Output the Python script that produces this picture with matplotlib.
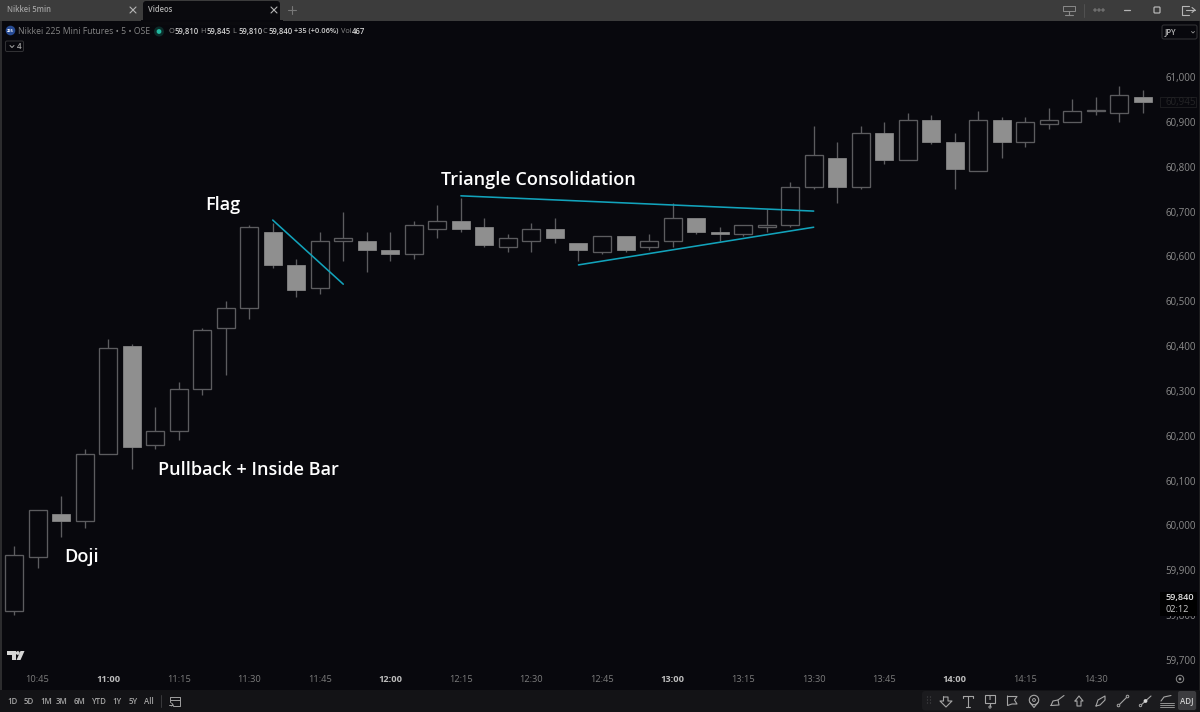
import matplotlib
matplotlib.use("Agg")
import matplotlib.pyplot as plt
from matplotlib.patches import FancyBboxPatch, Rectangle, Circle, Polygon

# Five-minute session data, oldest bar first
opens = [59810, 59930, 60025, 60010, 60160, 60400, 60180, 60210, 60305, 60440,
         60485, 60655, 60580, 60530, 60635, 60635, 60615, 60605, 60660, 60680,
         60665, 60620, 60635, 60660, 60630, 60610, 60645, 60620, 60635, 60685,
         60655, 60650, 60665, 60670, 60755, 60820, 60755, 60875, 60815, 60905,
         60855, 60790, 60905, 60855, 60895, 60900, 60925, 60920, 60955]
highs = [59955, 60035, 60065, 60170, 60415, 60405, 60265, 60320, 60440, 60500,
         60670, 60675, 60595, 60655, 60700, 60655, 60655, 60680, 60715, 60730,
         60685, 60650, 60675, 60685, 60630, 60645, 60645, 60650, 60720, 60685,
         60665, 60670, 60705, 60765, 60890, 60855, 60890, 60900, 60920, 60915,
         60875, 60925, 60910, 60910, 60930, 60950, 60955, 60980, 60970]
lows = [59800, 59905, 59975, 59995, 60160, 60125, 60170, 60190, 60290, 60335,
        60460, 60575, 60510, 60515, 60590, 60565, 60590, 60595, 60640, 60655,
        60620, 60610, 60610, 60630, 60590, 60605, 60610, 60615, 60620, 60650,
        60635, 60645, 60655, 60665, 60750, 60720, 60750, 60805, 60815, 60850,
        60750, 60790, 60820, 60845, 60885, 60900, 60915, 60900, 60920]
closes = [59935, 60035, 60010, 60160, 60395, 60175, 60210, 60305, 60435, 60485,
          60665, 60580, 60525, 60635, 60640, 60615, 60605, 60670, 60680, 60660,
          60625, 60640, 60660, 60640, 60615, 60645, 60615, 60635, 60685, 60655,
          60650, 60670, 60670, 60755, 60825, 60755, 60875, 60815, 60905, 60855,
          60795, 60905, 60855, 60900, 60905, 60925, 60925, 60960, 60945]

price_ticks = list(range(59700, 61001, 100))
time_tick_bars = list(range(1, 49, 3))
time_tick_labels = ["10:45", "11:00", "11:15", "11:30", "11:45", "12:00", "12:15", "12:30",
                    "12:45", "13:00", "13:15", "13:30", "13:45", "14:00", "14:15", "14:30"]

flag_line = ([11, 14], [60681, 60538])
triangle_top = ([19, 34], [60735, 60701])
triangle_bottom = ([24, 34], [60581, 60665])

notes = [("Doji", 2.13, 59930), ("Pullback + Inside Bar", 6.12, 60123), ("Flag", 8.13, 60715),
         ("Triangle Consolidation", 18.15, 60770)]

BG = "#08080d"
EDGE = "#5c5c5f"
FILL = "#8f8f8f"
TEAL = "#12a3bb"
W, H = 1200, 712

plt.rcParams["font.family"] = ["Open Sans", "DejaVu Sans"]
fig = plt.figure(figsize=(W / 100, H / 100), dpi=100, facecolor=BG)

# Price pane: 2.23 price units per pixel, bar spacing 23.52 px
ax = fig.add_axes([0, (H - 686) / H, 1160 / W, (686 - 40) / H], facecolor=BG)
ax.set_xlim(-14 / 23.52, (1160 - 14) / 23.52)
ax.set_ylim(59642, 61082.5)
for s in ax.spines.values():
    s.set_visible(False)
ax.yaxis.tick_right()
ax.set_yticks(price_ticks, [f"{p:,}" for p in price_ticks])
ax.tick_params(axis="y", length=0, pad=4.1, labelsize=7, labelcolor="#8c8c8c")
ax.set_xticks(time_tick_bars, time_tick_labels)
ax.tick_params(axis="x", length=0, pad=-8, labelsize=6.7, labelcolor="#7c7c7c", direction="in")
for lab in ax.get_xticklabels():
    if lab.get_text().endswith(":00"):
        lab.set_color("#bdbdbd")
        lab.set_fontweight("bold")

body_w = 18 / 23.52
for i, (o, h, l, c) in enumerate(zip(opens, highs, lows, closes)):
    top, bot = max(o, c), min(o, c)
    ax.vlines(i, bot, l, color=EDGE, lw=0.95, zorder=2)
    ax.vlines(i, top, h, color=EDGE, lw=0.95, zorder=2)
    if c >= o:
        ax.add_patch(Rectangle((i - body_w / 2, bot), body_w, max(top - bot, 1), fc=BG, ec=EDGE, lw=0.95, zorder=3))
    else:
        ax.add_patch(Rectangle((i - body_w / 2, bot), body_w, top - bot, fc=FILL, ec=FILL, lw=0.5, zorder=3))

for xs, ys in (flag_line, triangle_top, triangle_bottom):
    ax.plot(xs, ys, color=TEAL, lw=1.15, zorder=4, solid_capstyle="round")

for text, x, y in notes:
    ax.text(x, y, text, color="white", fontsize=12.95, fontweight="semibold",
            va="center", ha="left", zorder=5)

# Application chrome, laid out in pixel coordinates
ui = fig.add_axes([0, 0, 1, 1], facecolor="none", zorder=5)
ui.set_xlim(0, W)
ui.set_ylim(H, 0)
ui.axis("off")

ui.add_patch(Rectangle((0, 0), W, 20.5, fc="#3c3c3c", ec="none"))
ui.add_patch(FancyBboxPatch((143, 1), 137, 24, boxstyle="round,pad=0,rounding_size=3", fc="#0a0a0e", ec="none"))
ui.add_patch(Rectangle((141, 20), 142, 2, fc=BG, ec="none"))
ui.add_patch(Rectangle((0, 20.5), 1.5, 670, fc="#2c2c2e", ec="none"))
ui.add_patch(Rectangle((0, 689.5), W, 22.5, fc="#131316", ec="none"))
ui.add_patch(Rectangle((1198.5, 20.5), 1.5, 670, fc="#1c1c1e", ec="none"))

def label(x, y, s, size=6.3, color="#9a9a9a", ha="left", weight="normal"):
    ui.text(x, y, s, fontsize=size, color=color, ha=ha, va="center", fontweight=weight)

def stroke(points, color="#a0a0a0", lw=0.8):
    ui.plot([p[0] for p in points], [p[1] for p in points], color=color, lw=lw, solid_capstyle="round")

label(7, 10, "Nikkei 5min", 5.5, "#a2a2a2", weight="semibold")
label(148, 10, "Videos", 5.5, "#b0b0b0", weight="semibold")
for cx in (133, 274):
    stroke([(cx - 3, 7), (cx + 3, 13)], "#b5b5b5", 0.8)
    stroke([(cx - 3, 13), (cx + 3, 7)], "#b5b5b5", 0.8)
stroke([(288, 10), (296, 10)], "#777777", 0.8)
stroke([(292, 6), (292, 14)], "#777777", 0.8)

# Window controls
ui.add_patch(Rectangle((1063, 6), 12, 5, fc="none", ec="#8a8a8a", lw=0.7))
stroke([(1069, 11), (1069, 15)], "#8a8a8a")
stroke([(1065, 15), (1073, 15)], "#8a8a8a")
stroke([(1083.5, 4), (1083.5, 17)], "#555555", 0.6)
for cx in (1095, 1099, 1103):
    ui.add_patch(Circle((cx, 10), 1.1, fc="none", ec="#8a8a8a", lw=0.6))
stroke([(1124, 10), (1130, 10)], "#b5b5b5", 0.9)
ui.add_patch(FancyBboxPatch((1154, 7), 6, 6, boxstyle="round,pad=0,rounding_size=1", fc="none", ec="#b5b5b5", lw=0.9))
stroke([(1189, 5.5), (1182, 5.5), (1182, 14.5), (1189, 14.5)], "#b5b5b5", 0.8)
stroke([(1186, 10), (1195, 10)], "#b5b5b5", 0.8)
stroke([(1192, 7.5), (1195, 10), (1192, 12.5)], "#b5b5b5", 0.8)

# Symbol legend row
ui.add_patch(Circle((10.5, 30.5), 4.8, fc="#274b94", ec="none"))
ui.text(10.5, 30.7, "225", fontsize=2.9, color="white", ha="center", va="center", fontweight="bold")
label(18, 31, "Nikkei 225 Mini Futures \u2022 5 \u2022 OSE", 6.2, "#858585")
ui.add_patch(Circle((159, 31.5), 5, fc="#0c2c2a", ec="none"))
ui.add_patch(Circle((159, 31.5), 2.4, fc="#22b8a0", ec="none"))
ohlc = [(168.5, "O", "59,810"), (200.5, "H", "59,845"), (232.5, "L", "59,810"), (262.5, "C", "59,840")]
for x, k, v in ohlc:
    label(x, 31.5, k, 5.3, "#8a8a8a")
    label(x + 6, 31.5, v, 5.5, "#d0d0d0", weight="semibold")
label(294, 31.5, "+35 (+0.06%)", 5.3, "#d0d0d0", weight="semibold")
label(341, 31.5, "Vol", 5.3, "#8a8a8a")
label(351.5, 31.5, "467", 5.6, "#d0d0d0", weight="semibold")
ui.add_patch(FancyBboxPatch((5.5, 41), 18, 10.5, boxstyle="round,pad=0,rounding_size=1.5", fc="none", ec="#333336", lw=0.7))
stroke([(10, 45.5), (12, 47.5), (14, 45.5)], "#a5a5a5", 0.7)
label(17, 46.3, "4", 5.8, "#a5a5a5", weight="semibold")

ui.add_patch(FancyBboxPatch((1162, 25), 35, 14, boxstyle="round,pad=0,rounding_size=2", fc="none", ec="#303033", lw=0.8))
label(1164.5, 32, "JPY", 5.5, "#bdbdbd", weight="semibold")
stroke([(1191.5, 31.5), (1193, 33), (1194.5, 31.5)], "#9a9a9a", 0.6)

# Price scale flags
ui.add_patch(Rectangle((1160, 96.5), 36, 10.5, fc="#08080d", ec="#1c1c1f", lw=0.7))
label(1166, 102, "60,945", 7, "#242426")
ui.add_patch(Rectangle((1160, 592), 37, 24, fc="#000000", ec="none"))
label(1165.7, 597.8, "59,840", 6.6, "#e0e0e0", weight="semibold")
label(1165.7, 609.3, "02:12", 6.6, "#c8c8c8")

# TradingView mark
ui.add_patch(Polygon([(7, 651), (16, 651), (16, 660), (12, 660), (12, 655), (7, 655)], fc="#d5d5d5", ec="none"))
ui.add_patch(Circle((17.8, 653), 1.9, fc="#d5d5d5", ec="none"))
ui.add_patch(Polygon([(20.5, 651), (24.5, 651), (20.5, 660), (16.5, 660)], fc="#d5d5d5", ec="none"))

# Range selector
for x, s in [(13, "1D"), (29, "5D"), (46, "1M"), (62, "3M"), (79, "6M"), (99, "YTD"),
             (117, "1Y"), (133, "5Y"), (149, "All")]:
    label(x, 701, s, 5.7, "#a5a5a5", ha="center", weight="semibold")
stroke([(160.5, 695), (160.5, 707)], "#3a3a3d", 0.7)
stroke([(175, 697), (169.5, 697), (169.5, 702)], "#a0a0a0", 0.7)
stroke([(175, 697), (179.5, 697), (179.5, 706), (173, 706)], "#a0a0a0", 0.7)
stroke([(169.5, 700), (179.5, 700)], "#a0a0a0", 0.7)
stroke([(168.5, 704.5), (173, 704.5)], "#a0a0a0", 0.7)
stroke([(171.5, 703), (173, 704.5), (171.5, 706)], "#a0a0a0", 0.7)

# Auto-scale button beside the time axis
ui.add_patch(Circle((1180, 679), 3.7, fc="none", ec="#8a8a8a", lw=0.7))
ui.add_patch(Circle((1180, 679), 1.4, fc="#8a8a8a", ec="none"))

# Drawing toolbar
ui.add_patch(FancyBboxPatch((922, 691), 275, 19.5, boxstyle="round,pad=0,rounding_size=3", fc="#1b1b1e", ec="none"))
for gx in (927.5, 930.5):
    for gy in (697, 700, 703):
        ui.add_patch(Circle((gx, gy), 0.6, fc="#4a4a4d", ec="none"))
ICON = "#a5a5a5"
stroke([(943.5, 697), (948, 697), (948, 701), (952, 701), (946, 707), (940, 701), (943.5, 701), (943.5, 697)], ICON)
stroke([(963, 697.5), (963, 696), (973, 696), (973, 697.5)], ICON)
stroke([(968, 696), (968, 706.5)], ICON)
stroke([(966, 706.5), (970, 706.5)], ICON)
ui.add_patch(Rectangle((985, 695), 10, 8, fc="none", ec=ICON, lw=0.8))
label(990, 699, "T", 5, ICON, ha="center", weight="bold")
stroke([(990, 703), (990, 706)], ICON)
ui.add_patch(Circle((990, 707), 1.1, fc="none", ec=ICON, lw=0.7))
stroke([(1007.5, 696), (1007.5, 705.5), (1012, 704), (1017, 704), (1014.5, 700), (1017, 696.5), (1007.5, 696.5)], ICON)
ui.add_patch(Circle((1034, 700), 4.7, fc="none", ec=ICON, lw=0.8))
ui.add_patch(Circle((1034, 700), 1.4, fc="none", ec=ICON, lw=0.7))
stroke([(1030, 702.5), (1034, 707.5), (1038, 702.5)], ICON)
stroke([(1051, 705.5), (1053, 701), (1058, 700), (1059, 705), (1051, 705.5)], ICON)
stroke([(1058, 700), (1064, 695.5)], ICON)
stroke([(1075, 701), (1079, 696), (1083, 701), (1081, 701), (1081, 706), (1077, 706), (1077, 701), (1075, 701)], ICON)
stroke([(1096, 706), (1098, 700), (1105, 696), (1105, 700), (1100, 705), (1096, 706)], ICON)
stroke([(1118, 706), (1128, 696)], ICON)
ui.add_patch(Circle((1118.5, 705.5), 1.3, fc="#1b1b1e", ec=ICON, lw=0.7, zorder=4))
ui.add_patch(Circle((1127.5, 696.5), 1.3, fc="#1b1b1e", ec=ICON, lw=0.7, zorder=4))
stroke([(1140, 706), (1151, 696)], ICON)
ui.add_patch(Circle((1145.5, 701), 1.9, fc="#d5d5d5", ec="none", zorder=4))
ui.add_patch(Circle((1140.5, 705.5), 1.2, fc="#1b1b1e", ec=ICON, lw=0.7, zorder=4))
stroke([(1161, 701), (1164, 697), (1171, 695.5)], ICON)
for yy in (703, 705, 707):
    stroke([(1160, yy), (1174, yy)], ICON, 0.6)
ui.add_patch(FancyBboxPatch((1178, 691), 18, 19, boxstyle="round,pad=0,rounding_size=2", fc="#3c3c3f", ec="none"))
label(1187, 701, "ADJ", 5.8, "#cfcfcf", ha="center", weight="semibold")

fig.savefig("out.png", dpi=100, facecolor=BG)
